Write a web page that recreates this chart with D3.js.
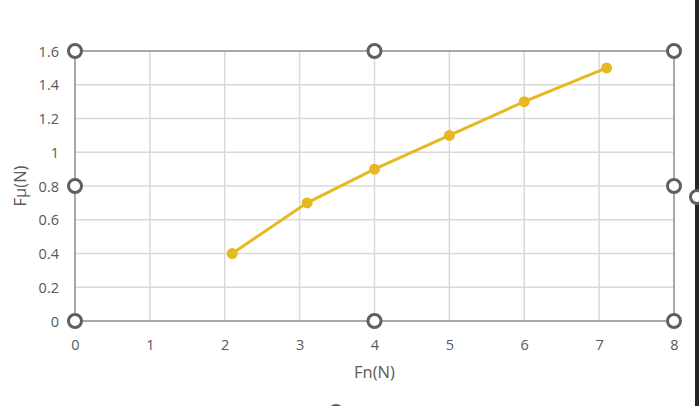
<!DOCTYPE html>
<html>
<head>
<meta charset="utf-8">
<script src="https://cdn.jsdelivr.net/npm/d3@7"></script>
<style>
  body { margin: 0; background: #fff; }
  svg { display: block; }
</style>
</head>
<body>
<div id="chart"></div>
<script>
const fn = [2.1, 3.1, 4, 5, 6, 7.1];
const fmu = [0.4, 0.7, 0.9, 1.1, 1.3, 1.5];
const xTicks = [0, 1, 2, 3, 4, 5, 6, 7, 8];
const yTicks = [0, 0.2, 0.4, 0.6, 0.8, 1, 1.2, 1.4, 1.6];

const width = 699, height = 406;
const margin = { top: 51, right: 25, bottom: 85, left: 75 };
const w = width - margin.left - margin.right;
const h = height - margin.top - margin.bottom;
const font = `"Open Sans", "Liberation Sans", sans-serif`;

const svg = d3.select(`#chart`).append(`svg`)
    .attr(`width`, width)
    .attr(`height`, height)
    .style(`font-family`, font);

const x = d3.scaleLinear().domain([0, 8]).range([margin.left, margin.left + w]);
const y = d3.scaleLinear().domain([0, 1.6]).range([margin.top + h, margin.top]);

// grid
svg.append(`g`).selectAll(`line`)
    .data(yTicks.slice(1, -1))
  .enter().append(`line`)
    .attr(`x1`, x(0)).attr(`x2`, x(8))
    .attr(`y1`, (d) => y(d)).attr(`y2`, (d) => y(d))
    .attr(`stroke`, `#d9d9d9`).attr(`stroke-width`, 1.5);

svg.append(`g`).selectAll(`line`)
    .data(xTicks.slice(1, -1))
  .enter().append(`line`)
    .attr(`x1`, (d) => x(d)).attr(`x2`, (d) => x(d))
    .attr(`y1`, y(0)).attr(`y2`, y(1.6))
    .attr(`stroke`, `#d9d9d9`).attr(`stroke-width`, 1.5);

// plot area border
svg.append(`rect`)
    .attr(`x`, x(0)).attr(`y`, y(1.6))
    .attr(`width`, x(8) - x(0)).attr(`height`, y(0) - y(1.6))
    .attr(`fill`, `none`).attr(`stroke`, `#8c8c8c`).attr(`stroke-width`, 1.5);

// axes (labels only)
const xAxis = svg.append(`g`)
    .attr(`transform`, `translate(0,${y(0)})`)
    .call(d3.axisBottom(x).tickValues(xTicks).tickSize(0).tickFormat(d3.format(`d`)));
xAxis.select(`.domain`).remove();

const yAxis = svg.append(`g`)
    .attr(`transform`, `translate(${x(0)},0)`)
    .call(d3.axisLeft(y).tickValues(yTicks).tickSize(0).tickPadding(16).tickFormat((d) => d3.format(`~g`)(d)));
yAxis.select(`.domain`).remove();

svg.selectAll(`.tick text`)
    .attr(`fill`, `#595959`)
    .attr(`font-size`, 14.5)
    .attr(`font-family`, font);
xAxis.selectAll(`text`).attr(`y`, 29).attr(`dy`, 0);
yAxis.selectAll(`text`).attr(`dy`, `0.36em`);

// titles
svg.append(`text`)
    .attr(`x`, x(4)).attr(`y`, 378)
    .attr(`text-anchor`, `middle`)
    .attr(`fill`, `#595959`).attr(`font-size`, 16.5)
    .text(`Fn(N)`);

svg.append(`text`)
    .attr(`transform`, `translate(26,${y(0.8)}) rotate(-90)`)
    .attr(`text-anchor`, `middle`)
    .attr(`fill`, `#595959`).attr(`font-size`, 16.5)
    .text(`Fμ(N)`);

// series
const pts = fn.map((v, i) => [v, fmu[i]]);
svg.append(`path`)
    .datum(pts)
    .attr(`fill`, `none`)
    .attr(`stroke`, `#e6b922`)
    .attr(`stroke-width`, 3)
    .attr(`d`, d3.line().x((d) => x(d[0])).y((d) => y(d[1])));

svg.append(`g`).selectAll(`circle`)
    .data(pts)
  .enter().append(`circle`)
    .attr(`cx`, (d) => x(d[0])).attr(`cy`, (d) => y(d[1]))
    .attr(`r`, 5.5)
    .attr(`fill`, `#e6b922`);

// selection handles
const handles = [[0, 1.6], [4, 1.6], [8, 1.6], [0, 0.8], [8, 0.8], [0, 0], [4, 0], [8, 0]];
svg.append(`g`).selectAll(`circle`)
    .data(handles)
  .enter().append(`circle`)
    .attr(`cx`, (d) => x(d[0])).attr(`cy`, (d) => y(d[1]))
    .attr(`r`, 6.5)
    .attr(`fill`, `#fff`)
    .attr(`stroke`, `#5f5f5f`).attr(`stroke-width`, 3);

// outer chart frame edge at the right
svg.append(`rect`)
    .attr(`x`, 695).attr(`y`, 0).attr(`width`, 4).attr(`height`, height)
    .attr(`fill`, `#262626`);
svg.append(`circle`)
    .attr(`cx`, 697).attr(`cy`, 197).attr(`r`, 6.5)
    .attr(`fill`, `#fff`).attr(`stroke`, `#5f5f5f`).attr(`stroke-width`, 3);
svg.append(`circle`)
    .attr(`cx`, 336).attr(`cy`, 412).attr(`r`, 6.5)
    .attr(`fill`, `#fff`).attr(`stroke`, `#5f5f5f`).attr(`stroke-width`, 3);
</script>
</body>
</html>
